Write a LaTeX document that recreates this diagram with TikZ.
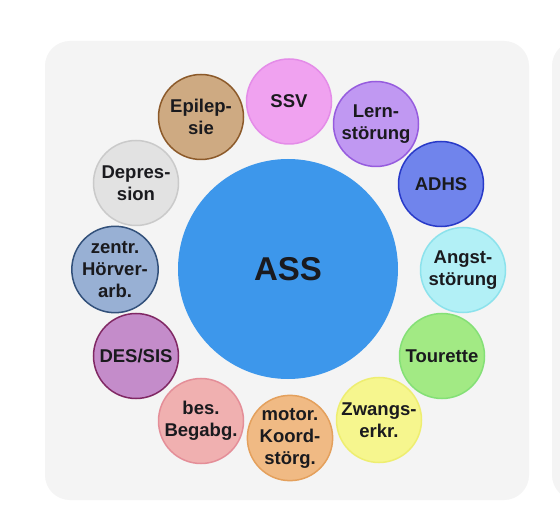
\documentclass[tikz,border=0pt]{standalone}
\usepackage{fontspec}
\setmainfont{Liberation Sans}
\definecolor{panelgray}{RGB}{244,244,244}
\definecolor{txt}{RGB}{26,26,30}
\definecolor{assblue}{RGB}{61,151,235}
\definecolor{ssvF}{RGB}{240,162,240}\definecolor{ssvD}{RGB}{228,140,232}
\definecolor{lernF}{RGB}{192,152,242}\definecolor{lernD}{RGB}{150,92,222}
\definecolor{adhsF}{RGB}{112,132,236}\definecolor{adhsD}{RGB}{40,58,200}
\definecolor{angstF}{RGB}{178,240,246}\definecolor{angstD}{RGB}{140,226,236}
\definecolor{tourF}{RGB}{162,234,132}\definecolor{tourD}{RGB}{132,224,118}
\definecolor{zwF}{RGB}{246,246,142}\definecolor{zwD}{RGB}{238,238,112}
\definecolor{motF}{RGB}{240,186,132}\definecolor{motD}{RGB}{228,160,92}
\definecolor{besF}{RGB}{240,176,176}\definecolor{besD}{RGB}{228,142,152}
\definecolor{desF}{RGB}{196,140,202}\definecolor{desD}{RGB}{128,40,100}
\definecolor{hoerF}{RGB}{152,176,212}\definecolor{hoerD}{RGB}{50,80,122}
\definecolor{depF}{RGB}{226,226,226}\definecolor{depD}{RGB}{202,202,202}
\definecolor{epiF}{RGB}{206,170,130}\definecolor{epiD}{RGB}{140,90,42}
\tikzset{
  bub/.style={circle, minimum size=85pt, inner sep=0pt, line width=1.5pt,
    align=center, text=txt, font=\fontsize{18.5}{22}\selectfont\bfseries},
  panel/.style={fill=panelgray, rounded corners=25pt}
}
\begin{document}
\begin{tikzpicture}[x=1pt, y=-1pt]
\useasboundingbox (0,0) rectangle (560,513);
\fill[white] (0,0) rectangle (560,513);
\fill[panel] (45,41) rectangle (529,500);
\begin{scope}
  \clip (0,0) rectangle (560,513);
  \fill[panel] (552,41) rectangle (620,500);
\end{scope}
\node[circle, fill=assblue, minimum size=220pt, inner sep=0pt, text=txt,
  font=\fontsize{33}{36}\selectfont\bfseries] (ass) at (288,269) {ASS};
\node[bub, fill=ssvF, draw=ssvD]     (ssv)  at (289,101.5) {SSV};
\node[bub, fill=lernF, draw=lernD]   (lern) at (376,124) {Lern-\\störung};
\node[bub, fill=adhsF, draw=adhsD]   (adhs) at (441,184) {ADHS};
\node[bub, fill=angstF, draw=angstD] (angst) at (463,270) {Angst-\\störung};
\node[bub, fill=tourF, draw=tourD]   (tour) at (442,356) {Tourette};
\node[bub, fill=zwF, draw=zwD]       (zw)   at (379,420) {Zwangs-\\erkr.};
\node[bub, fill=motF, draw=motD]     (mot)  at (290,438) {motor.\\Koord-\\störg.};
\node[bub, fill=besF, draw=besD]     (bes)  at (201,421) {bes.\\Begabg.};
\node[bub, fill=desF, draw=desD]     (des)  at (136,356) {DES/SIS};
\node[bub, fill=hoerF, draw=hoerD]   (hoer) at (115,269.5) {zentr.\\Hörver-\\arb.};
\node[bub, fill=depF, draw=depD]     (dep)  at (136,183) {Depres-\\sion};
\node[bub, fill=epiF, draw=epiD]     (epi)  at (201,117) {Epilep-\\sie};
\end{tikzpicture}
\end{document}
